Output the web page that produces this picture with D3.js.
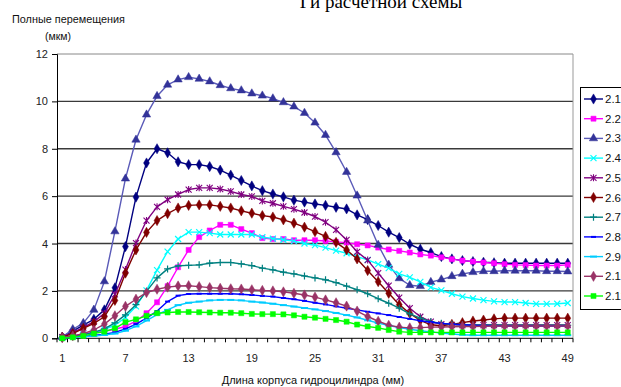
<!DOCTYPE html>
<html>
<head>
<meta charset="utf-8">
<script src="https://cdn.jsdelivr.net/npm/d3@7"></script>
<style>
  html, body { margin: 0; padding: 0; background: #fff; overflow: hidden; }
  svg { display: block; }
</style>
</head>
<body>
<svg id="chart" width="621" height="387"></svg>
<script>
// Categories: housing length positions along the cylinder
const categories = [1,2,3,4,5,6,7,8,9,10,11,12,13,14,15,16,17,18,19,20,21,22,23,24,25,
  26,27,28,29,30,31,32,33,34,35,36,37,38,39,40,41,42,43,44,45,46,47,48,49];
const xTickLabels = [1, 7, 13, 19, 25, 31, 37, 43, 49];
const yTickValues = [0, 2, 4, 6, 8, 10, 12];

// Total displacement (µm) for each design scheme
const s2_1 = [0.05,0.3,0.56,0.8,1.2,2.13,3.87,5.96,7.4,8.0,7.83,7.45,7.33,7.33,7.25,7.1,6.89,6.66,6.43,6.23,6.09,5.97,5.83,5.75,5.67,5.61,5.53,5.46,5.21,5.01,4.76,4.48,4.25,3.97,3.76,3.62,3.45,3.35,3.28,3.24,3.21,3.19,3.17,3.17,3.17,3.17,3.17,3.17,3.17];
const s2_2 = [0.03,0.1,0.18,0.25,0.3,0.38,0.5,0.72,1.06,1.52,2.2,3.0,3.73,4.27,4.55,4.79,4.79,4.61,4.44,4.23,4.19,4.19,4.14,4.14,4.14,4.11,4.07,4.04,3.97,3.92,3.83,3.75,3.69,3.62,3.54,3.49,3.42,3.34,3.28,3.24,3.2,3.17,3.13,3.1,3.09,3.07,3.07,3.07,3.1];
const s2_3 = [0.05,0.38,0.64,1.2,2.4,4.51,6.74,8.38,9.44,10.22,10.7,10.92,11.02,10.95,10.84,10.68,10.55,10.46,10.33,10.24,10.12,9.96,9.78,9.51,9.1,8.58,7.85,7.02,6.02,4.97,3.94,3.1,2.53,2.24,2.2,2.37,2.48,2.62,2.72,2.79,2.83,2.83,2.85,2.85,2.85,2.85,2.83,2.83,2.82];
const s2_4 = [0.03,0.08,0.15,0.25,0.38,0.55,0.88,1.35,2.02,2.88,3.66,4.19,4.48,4.48,4.44,4.38,4.38,4.38,4.38,4.27,4.21,4.16,4.1,4.0,3.93,3.83,3.7,3.59,3.45,3.31,3.13,2.96,2.72,2.57,2.38,2.15,2.02,1.88,1.76,1.68,1.61,1.56,1.53,1.53,1.49,1.45,1.45,1.46,1.49];
const s2_5 = [0.05,0.25,0.45,0.7,1.05,1.85,2.9,4.02,4.97,5.55,5.85,6.07,6.28,6.35,6.35,6.3,6.2,6.07,5.99,5.8,5.7,5.57,5.45,5.31,5.14,4.9,4.58,4.15,3.65,3.3,2.75,2.22,1.72,1.27,0.91,0.7,0.6,0.57,0.56,0.56,0.56,0.56,0.56,0.56,0.56,0.56,0.56,0.56,0.56];
const s2_6 = [0.05,0.2,0.42,0.63,0.91,1.6,2.75,3.73,4.47,4.97,5.26,5.5,5.61,5.63,5.63,5.57,5.5,5.38,5.28,5.18,5.12,5.0,4.86,4.69,4.5,4.3,4.05,3.73,3.35,2.86,2.39,1.9,1.42,1.05,0.76,0.57,0.53,0.59,0.66,0.73,0.77,0.82,0.85,0.85,0.85,0.85,0.85,0.85,0.85];
const s2_7 = [0.03,0.08,0.15,0.25,0.4,0.65,0.99,1.42,1.98,2.55,2.93,3.06,3.08,3.1,3.17,3.2,3.2,3.14,3.07,2.96,2.89,2.79,2.72,2.63,2.55,2.47,2.35,2.2,2.05,1.88,1.67,1.48,1.27,1.03,0.85,0.7,0.63,0.59,0.57,0.56,0.56,0.56,0.55,0.55,0.55,0.55,0.55,0.55,0.55];
const s2_8 = [0.02,0.05,0.08,0.12,0.17,0.25,0.4,0.6,0.85,1.15,1.55,1.8,1.87,1.88,1.88,1.88,1.88,1.86,1.83,1.79,1.76,1.7,1.65,1.58,1.5,1.43,1.35,1.27,1.2,1.12,1.05,0.98,0.9,0.82,0.74,0.68,0.63,0.6,0.57,0.55,0.54,0.53,0.52,0.52,0.52,0.52,0.52,0.52,0.52];
const s2_9 = [0.02,0.04,0.07,0.1,0.14,0.2,0.32,0.5,0.75,1.0,1.2,1.4,1.5,1.55,1.6,1.62,1.62,1.6,1.55,1.51,1.46,1.4,1.34,1.28,1.22,1.15,1.07,0.98,0.88,0.76,0.64,0.54,0.45,0.38,0.32,0.27,0.22,0.18,0.15,0.13,0.13,0.13,0.13,0.13,0.13,0.13,0.13,0.13,0.13];
const s2_10 = [0.03,0.1,0.2,0.35,0.6,0.95,1.35,1.65,1.93,2.07,2.16,2.21,2.22,2.18,2.14,2.11,2.09,2.08,2.05,2.02,2.0,1.96,1.9,1.83,1.74,1.62,1.5,1.36,1.15,0.92,0.72,0.55,0.47,0.44,0.45,0.47,0.48,0.49,0.5,0.5,0.51,0.52,0.52,0.52,0.52,0.52,0.52,0.52,0.52];
const s2_11 = [0,0.04,0.1,0.2,0.28,0.42,0.68,0.8,0.95,1.06,1.09,1.11,1.11,1.1,1.09,1.08,1.08,1.06,1.03,1.02,1.02,1.01,0.97,0.91,0.87,0.82,0.77,0.7,0.58,0.5,0.44,0.35,0.28,0.25,0.25,0.25,0.25,0.25,0.25,0.25,0.25,0.25,0.25,0.25,0.25,0.25,0.25,0.25,0.25];

const seriesNames = ["2.1","2.2","2.3","2.4","2.5","2.6","2.7","2.8","2.9","2.10","2.11"];
const seriesValues = [s2_1, s2_2, s2_3, s2_4, s2_5, s2_6, s2_7, s2_8, s2_9, s2_10, s2_11];
const lineColors   = ["#000080","#ff00ff","#5a5ab8","#00ffff","#800080","#800000","#008080","#0000ff","#00ccff","#993366","#00ff00"];
const markerColors = ["#000080","#ff00ff","#333399","#00ffff","#800080","#800000","#008080","#0000ff","#00ccff","#993366","#00ff00"];
const markerKinds  = ["diamond","square","triangle","x","star","diamond","plus","dash","longdash","diamond","square"];

const series = seriesNames.map((name, i) => ({
  name, values: seriesValues[i], line: lineColors[i], mark: markerColors[i], kind: markerKinds[i]
}));

const svg = d3.select("#chart");
const plot = { left: 57, right: 573, top: 54, bottom: 338.3 };

const xBand = d3.scaleBand().domain(categories).range([plot.left, plot.right]).paddingInner(0).paddingOuter(0);
const x = d => xBand(d) + xBand.bandwidth() / 2;
const y = d3.scaleLinear().domain([0, 12]).range([plot.bottom, plot.top]);

// Title (partly above the visible area)
svg.append("text")
  .attr("x", 381).attr("y", 8)
  .attr("text-anchor", "middle")
  .attr("font-family", "'Liberation Serif', 'Times New Roman', serif")
  .attr("font-size", 19)
  .attr("fill", "#000")
  .text("Ги расчетной схемы");

// Y-axis title
svg.append("text")
  .attr("x", 12).attr("y", 23)
  .attr("font-family", "'Liberation Sans', Arial, sans-serif")
  .attr("font-size", 10.5).attr("fill", "#111")
  .attr("textLength", 113).attr("lengthAdjust", "spacingAndGlyphs")
  .text("Полные перемещения");
svg.append("text")
  .attr("x", 45).attr("y", 40)
  .attr("font-family", "'Liberation Sans', Arial, sans-serif")
  .attr("font-size", 10.5).attr("fill", "#111")
  .text("(мкм)");

// Horizontal gridlines
svg.append("g").selectAll("line")
  .data(yTickValues.filter(v => v > 0))
  .join("line")
  .attr("x1", plot.left).attr("x2", plot.right)
  .attr("y1", d => y(d)).attr("y2", d => y(d))
  .attr("stroke", d => d === 12 ? "#888" : "#3a3a3a")
  .attr("stroke-width", d => d === 12 ? 1 : 1.4);

// Right border of the plot area
svg.append("line")
  .attr("x1", plot.right).attr("x2", plot.right)
  .attr("y1", plot.top).attr("y2", plot.bottom)
  .attr("stroke", "#999").attr("stroke-width", 1);

// Y axis
const yAxis = d3.axisLeft(y).tickValues(yTickValues).tickSize(5).tickPadding(4);
const gy = svg.append("g").attr("transform", `translate(${plot.left},0)`).call(yAxis);
gy.select(".domain").attr("stroke", "#000");
gy.selectAll(".tick line").attr("stroke", "#000");
gy.selectAll(".tick text")
  .attr("font-family", "'Liberation Sans', Arial, sans-serif")
  .attr("font-size", 11).attr("fill", "#222");

// X axis: ticks between categories, labels every sixth category
const boundaries = categories.map(c => xBand(c)).concat([plot.right]);
const gx = svg.append("g");
gx.append("line")
  .attr("x1", plot.left).attr("x2", plot.right)
  .attr("y1", plot.bottom).attr("y2", plot.bottom)
  .attr("stroke", "#000");
gx.selectAll("line.tk").data(boundaries).join("line").attr("class", "tk")
  .attr("x1", d => d).attr("x2", d => d)
  .attr("y1", plot.bottom).attr("y2", plot.bottom + 4)
  .attr("stroke", "#000");
gx.selectAll("text").data(xTickLabels).join("text")
  .attr("x", d => x(d)).attr("y", 362)
  .attr("text-anchor", "middle")
  .attr("font-family", "'Liberation Sans', Arial, sans-serif")
  .attr("font-size", 11).attr("fill", "#222")
  .text(d => d);

// X-axis title
svg.append("text")
  .attr("x", 313).attr("y", 384)
  .attr("text-anchor", "middle")
  .attr("font-family", "'Liberation Sans', Arial, sans-serif")
  .attr("font-size", 11).attr("fill", "#111")
  .text("Длина корпуса гидроцилиндра (мм)");

// Marker drawing
function drawMarker(sel, kind, color) {
  const sym = (t, s) => sel.append("path").attr("d", d3.symbol().type(t).size(s)()).attr("fill", color).attr("stroke", color).attr("stroke-width", 0.5);
  const stroke = (d, w) => sel.append("path").attr("d", d).attr("fill", "none").attr("stroke", color).attr("stroke-width", w);
  switch (kind) {
    case "diamond": sym(d3.symbolDiamond, 30); break;
    case "square": sym(d3.symbolSquare, 26); break;
    case "triangle": sym(d3.symbolTriangle, 30); break;
    case "x": stroke("M-3,-3L3,3M-3,3L3,-3", 1.2); break;
    case "star": stroke("M-3,-3L3,3M-3,3L3,-3M0,-3.5L0,3.5", 1.1); break;
    case "plus": stroke("M-3.5,0L3.5,0M0,-3.5L0,3.5", 1.2); break;
    case "dash": stroke("M-2.5,0L2.5,0", 2); break;
    case "longdash": stroke("M-3.5,0L3.5,0", 2); break;
  }
}

const line = d3.line().x((d, i) => x(categories[i])).y(d => y(d));

const gSeries = svg.append("g");
series.forEach(s => {
  const g = gSeries.append("g");
  g.append("path")
    .attr("d", line(s.values))
    .attr("fill", "none")
    .attr("stroke", s.line)
    .attr("stroke-width", 1.4)
    .attr("stroke-linejoin", "round");
  s.values.forEach((v, i) => {
    const m = g.append("g").attr("transform", `translate(${x(categories[i])},${y(v)})`);
    drawMarker(m, s.kind, s.mark);
  });
});

// Legend
const legend = svg.append("g");
legend.append("rect")
  .attr("x", 580.5).attr("y", 87.5)
  .attr("width", 60).attr("height", 222)
  .attr("fill", "#fff").attr("stroke", "#000").attr("stroke-width", 1);
series.forEach((s, i) => {
  const ly = 99 + i * 19.7;
  legend.append("line")
    .attr("x1", 584).attr("x2", 603)
    .attr("y1", ly).attr("y2", ly)
    .attr("stroke", s.line).attr("stroke-width", 1.4);
  const m = legend.append("g").attr("transform", `translate(593.5,${ly})`);
  drawMarker(m, s.kind, s.mark);
  legend.append("text")
    .attr("x", 605).attr("y", ly + 4)
    .attr("font-family", "'Liberation Sans', Arial, sans-serif")
    .attr("font-size", 11.5).attr("fill", "#111")
    .text(s.name);
});
</script>
</body>
</html>
